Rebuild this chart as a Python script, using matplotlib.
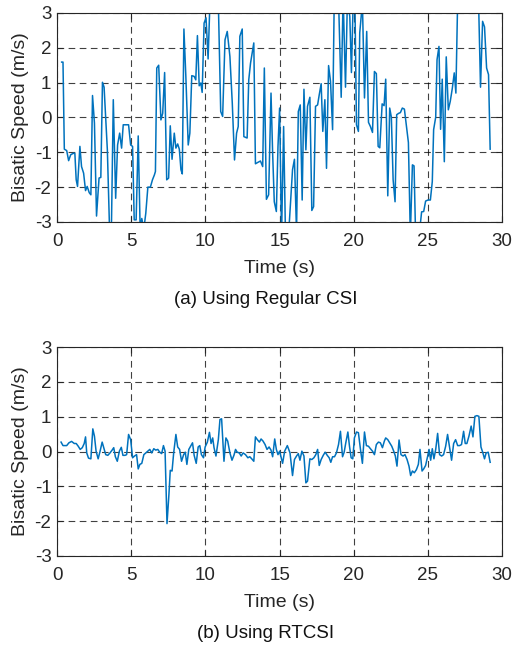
import numpy as np
import matplotlib
matplotlib.use("Agg")
from matplotlib import pyplot as plt

plt.rcParams["font.family"] = ["Liberation Sans", "DejaVu Sans"]
plt.rcParams["axes.unicode_minus"] = False

# (a) regular CSI: time (s) and bisatic speed (m/s); values beyond +-3 run off the axes
t_a = [0.31, 0.40, 0.49, 0.65, 0.78, 0.92, 1.09, 1.20, 1.29, 1.38, 1.54, 1.65, 1.79, 1.92,
       2.03, 2.17, 2.28, 2.39, 2.52, 2.66, 2.83, 2.95, 3.06, 3.17, 3.39, 3.55, 3.66, 3.79,
       3.95, 4.08, 4.22, 4.35, 4.46, 4.64, 4.82, 4.96, 5.09, 5.20, 5.33, 5.47, 5.60, 5.71,
       5.85, 5.98, 6.12, 6.29, 6.43, 6.56, 6.63, 6.72, 6.85, 7.00, 7.12, 7.25, 7.39, 7.52,
       7.63, 7.75, 7.90, 8.01, 8.13, 8.24, 8.35, 8.44, 8.55, 8.68, 8.84, 8.95, 9.08, 9.24,
       9.35, 9.46, 9.58, 9.69, 9.78, 9.91, 10.04, 10.18, 10.31, 10.47, 10.70, 10.87, 11.03,
       11.16, 11.32, 11.47, 11.65, 11.81, 11.96, 12.10, 12.21, 12.32, 12.48, 12.59, 12.81,
       12.92, 13.04, 13.26, 13.37, 13.53, 13.71, 13.86, 13.97, 14.11, 14.26, 14.42, 14.53,
       14.64, 14.78, 14.89, 15.00, 15.13, 15.27, 15.40, 15.60, 15.87, 16.00, 16.14, 16.26,
       16.39, 16.52, 16.64, 16.77, 16.88, 17.04, 17.17, 17.29, 17.42, 17.56, 17.67, 17.80,
       17.91, 18.05, 18.16, 18.30, 18.43, 18.57, 18.68, 18.85, 18.97, 19.15, 19.28, 19.44,
       19.57, 19.73, 19.84, 19.96, 20.07, 20.18, 20.31, 20.40, 20.58, 20.72, 20.87, 20.99,
       21.12, 21.26, 21.39, 21.52, 21.64, 21.75, 21.91, 22.04, 22.15, 22.29, 22.42, 22.53,
       22.65, 22.78, 22.89, 23.03, 23.14, 23.27, 23.41, 23.54, 23.68, 23.81, 23.95, 24.06,
       24.17, 24.30, 24.45, 24.57, 24.71, 24.84, 25.00, 25.16, 25.29, 25.38, 25.52, 25.61,
       25.74, 25.85, 25.96, 26.10, 26.23, 26.37, 26.50, 26.64, 26.77, 26.88, 27.00, 27.30,
       27.70, 28.10, 28.41, 28.54, 28.68, 28.81, 28.95, 29.08, 29.19]
v_a = [1.59, 1.59, -0.91, -0.95, -1.24, -1.07, -1.03, -1.03, -1.79, -1.98, -0.83, -1.41,
       -1.60, -2.10, -1.98, -2.16, -2.22, 0.63, -0.16, -2.83, -1.74, -1.72, 1.01, 0.87,
       -0.93, -3.40, -3.30, 0.51, -2.32, -0.79, -0.45, -0.88, -0.21, -0.21, -0.21, -0.79,
       -0.83, -2.94, -2.94, -0.53, -3.20, -2.90, -3.20, -2.75, -2.00, -2.00, -1.79, -1.65,
       -1.55, 1.42, 1.50, -0.07, 0.12, 1.29, -1.79, -1.74, -0.24, -1.20, -0.45, -0.88,
       -0.76, -0.91, -1.50, -1.62, 2.54, 1.18, -0.79, -0.45, 1.20, 1.18, 1.08, 2.35, 0.91,
       0.99, 0.72, 2.71, 2.86, 1.68, 3.40, 3.60, 3.50, 3.30, 0.17, 0.03, 2.23, 2.47, 1.75,
       0.41, -1.22, -0.45, -0.26, 2.33, 2.54, -0.55, -0.59, 1.08, 1.56, 2.14, -1.33, -1.29,
       -1.25, -1.41, 1.42, -2.35, -2.22, 0.70, -1.03, -2.42, -2.70, -0.83, 0.27, -3.40,
       -0.26, -3.50, -3.40, -1.50, -1.20, -3.30, 0.17, 0.36, -2.37, 0.81, -0.93, 0.32, 0.58,
       -2.67, -2.56, 0.32, 0.36, 0.65, 0.97, -0.40, 0.51, -1.46, 1.49, 1.04, -0.35, 3.40,
       3.60, 3.40, 0.58, 3.50, 0.87, 3.40, 2.90, 1.29, 3.40, 3.50, -0.21, -0.40, 2.43, 3.30,
       0.56, 2.47, -0.14, -0.26, -0.43, 1.32, 1.26, -0.83, -0.87, 0.39, 0.34, 1.10, -2.25,
       0.27, 0.01, -1.79, -2.42, 0.08, 0.12, 0.14, 0.27, 0.24, -0.21, -0.72, -3.40, -1.36,
       -1.39, -3.50, -3.40, -3.20, -2.71, -2.70, -2.40, -2.37, -2.37, -1.84, -0.35, 0.01,
       1.66, 2.04, -0.34, 1.10, -1.27, 1.74, 0.22, 0.46, 0.84, 1.28, 0.70, 3.40, 3.80, 3.60,
       3.70, 3.30, 0.87, 2.76, 2.60, 1.42, 1.23, -0.91]

# (b) RTCSI
t_b = [0.27, 0.40, 0.65, 0.80, 0.98, 1.16, 1.29, 1.43, 1.56, 1.70, 1.83, 1.92, 2.00, 2.12,
       2.28, 2.41, 2.52, 2.63, 2.77, 2.90, 3.04, 3.15, 3.28, 3.42, 3.57, 3.71, 3.82, 3.93,
       4.06, 4.20, 4.33, 4.44, 4.58, 4.69, 4.82, 4.96, 5.09, 5.22, 5.36, 5.47, 5.58, 5.71,
       5.85, 5.98, 6.12, 6.25, 6.38, 6.52, 6.65, 6.79, 6.92, 7.05, 7.17, 7.28, 7.41, 7.54,
       7.63, 7.75, 7.86, 8.01, 8.13, 8.26, 8.39, 8.53, 8.64, 8.75, 8.88, 9.02, 9.13, 9.24,
       9.38, 9.51, 9.62, 9.73, 9.87, 9.98, 10.13, 10.27, 10.38, 10.49, 10.58, 10.71, 10.87,
       10.98, 11.09, 11.25, 11.38, 11.50, 11.65, 11.79, 11.92, 12.03, 12.14, 12.28, 12.41,
       12.54, 12.70, 12.86, 12.99, 13.12, 13.26, 13.37, 13.50, 13.64, 13.75, 13.88, 14.02,
       14.15, 14.29, 14.42, 14.53, 14.67, 14.78, 14.89, 15.00, 15.20, 15.34, 15.52, 15.70,
       15.87, 16.00, 16.14, 16.26, 16.37, 16.50, 16.64, 16.77, 16.88, 17.04, 17.17, 17.31,
       17.44, 17.56, 17.67, 17.80, 17.94, 18.07, 18.21, 18.34, 18.45, 18.57, 18.70, 18.83,
       18.97, 19.10, 19.24, 19.35, 19.46, 19.60, 19.71, 19.82, 19.93, 20.04, 20.18, 20.31,
       20.45, 20.58, 20.72, 20.85, 20.99, 21.12, 21.26, 21.39, 21.52, 21.66, 21.79, 21.93,
       22.06, 22.15, 22.29, 22.42, 22.56, 22.69, 22.80, 22.91, 23.05, 23.18, 23.32, 23.45,
       23.59, 23.72, 23.83, 23.95, 24.08, 24.22, 24.35, 24.46, 24.60, 24.71, 24.84, 24.98,
       25.07, 25.18, 25.29, 25.40, 25.52, 25.65, 25.78, 25.92, 26.05, 26.19, 26.32, 26.46,
       26.59, 26.73, 26.86, 27.00, 27.13, 27.26, 27.40, 27.51, 27.62, 27.76, 27.91, 28.03,
       28.16, 28.30, 28.43, 28.57, 28.70, 28.81, 28.92, 29.06, 29.19]
v_b = [0.27, 0.17, 0.17, 0.25, 0.29, 0.23, 0.23, 0.15, 0.06, 0.11, 0.23, 0.42, -0.04,
       -0.19, -0.21, 0.65, 0.44, 0.01, -0.21, 0.01, 0.27, 0.11, -0.09, -0.11, -0.04, 0.04,
       0.11, -0.15, -0.28, 0.01, 0.12, -0.11, -0.11, -0.09, 0.49, 0.34, -0.18, -0.13,
       -0.09, -0.50, -0.37, -0.34, -0.09, -0.04, 0.01, 0.06, -0.04, 0.08, 0.04, 0.06, -0.02,
       -0.06, 0.17, 0.01, -2.07, -1.23, -0.54, -0.56, -0.04, 0.49, 0.13, 0.06, -0.28, -0.09,
       -0.02, -0.37, 0.06, 0.17, 0.25, -0.11, -0.34, 0.13, 0.17, -0.09, -0.18, 0.13, 0.27,
       0.55, 0.23, 0.39, 0.11, -0.13, 0.34, 0.92, 0.94, -0.28, 0.39, 0.30, -0.04, -0.25,
       -0.11, 0.06, -0.02, -0.04, -0.13, -0.04, -0.09, -0.18, -0.15, -0.21, -0.28, 0.42,
       0.34, 0.27, 0.36, 0.30, 0.20, 0.06, 0.13, 0.04, -0.15, 0.36, 0.06, -0.09, 0.01,
       -0.34, 0.01, 0.17, -0.04, -0.69, -0.23, -0.13, -0.06, -0.25, 0.01, -0.13, -0.90,
       -0.85, -0.21, -0.23, -0.18, -0.09, 0.06, -0.40, -0.23, -0.11, -0.02, -0.11, -0.18,
       -0.31, -0.15, -0.15, -0.04, 0.20, 0.58, -0.15, -0.02, 0.25, 0.56, 0.15, -0.18,
       -0.21, 0.39, 0.56, 0.54, 0.06, -0.34, 0.56, 0.17, 0.15, 0.08, 0.01, -0.09, 0.20,
       0.27, 0.25, 0.11, 0.30, 0.39, 0.34, 0.25, 0.15, 0.01, -0.13, -0.42, 0.33, -0.09,
       -0.13, -0.09, -0.23, -0.42, -0.69, -0.56, -0.61, -0.52, -0.37, 0.06, -0.56, -0.50,
       -0.40, -0.13, 0.06, -0.25, 0.08, -0.21, 0.06, 0.52, -0.09, -0.13, -0.09, 0.15, 0.49,
       0.11, -0.25, 0.23, 0.34, 0.17, 0.17, 0.20, 0.58, 0.23, 0.23, 0.44, 0.73, 0.42, 1.01,
       1.03, 1.01, 0.13, -0.04, -0.21, -0.04, -0.02, -0.31]

captions = ["(a) Using Regular CSI", "(b) Using RTCSI"]
line_color = "#0072BD"
axis_color = "#262626"

fig = plt.figure(figsize=(5.14, 6.49), dpi=100)
ax_a = fig.add_axes([0.111, 0.658, 0.866, 0.322])
ax_b = fig.add_axes([0.111, 0.1433, 0.866, 0.322])

for ax, t, v in [(ax_a, t_a, v_a), (ax_b, t_b, v_b)]:
    ax.plot(t, v, color=line_color, linewidth=1.1)
    ax.set_xlim(0, 30)
    ax.set_ylim(-3, 3)
    ax.set_xticks(np.arange(0, 31, 5))
    ax.set_yticks(np.arange(-3, 4, 1))
    ax.grid(True, linestyle=(0, (6, 4)), linewidth=0.8, color="black", alpha=0.75)
    ax.tick_params(direction="in", length=4, width=0.8, labelsize=13.5,
                   colors=axis_color, top=True, right=True)
    ax.tick_params(axis="x", pad=8)
    ax.tick_params(axis="y", pad=4)
    for sp in ax.spines.values():
        sp.set_color(axis_color)
        sp.set_linewidth(0.8)
    ax.set_xlabel("Time (s)", fontsize=14, color=axis_color, labelpad=7)
    ax.set_ylabel("Bisatic Speed (m/s)", fontsize=14, color=axis_color, labelpad=4)

fig.text(0.517, 1 - 299 / 649, captions[0], ha="center", va="center", fontsize=13.5, color="#111111")
fig.text(0.517, 1 - 634 / 649, captions[1], ha="center", va="center", fontsize=13.5, color="#111111")

plt.savefig("out.png", dpi=100)
